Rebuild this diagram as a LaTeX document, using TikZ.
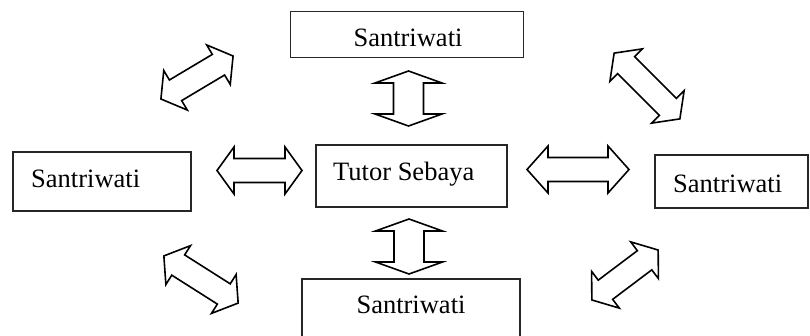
\documentclass[tikz,border=0pt]{standalone}
\usepackage{fontspec}
\setmainfont{Liberation Serif}
\begin{document}
\begin{tikzpicture}[x=1pt,y=-1pt,
  box/.style={draw=black!85, line width=1.8pt, rectangle, inner sep=0pt},
  lbl/.style={font=\fontsize{26.5}{30}\selectfont, inner sep=0pt, text=black},
  blockarrow/.style={draw=black, line width=1.6pt, line join=miter, fill=white},
  dbl/.pic={
    \draw[blockarrow] (-\L/2,0) -- (-\L/2+\hl,\hw) -- (-\L/2+\hl,\sw) -- (\L/2-\hl,\sw) -- (\L/2-\hl,\hw) -- (\L/2,0)
      -- (\L/2-\hl,-\hw) -- (\L/2-\hl,-\sw) -- (-\L/2+\hl,-\sw) -- (-\L/2+\hl,-\hw) -- cycle;
  }]
\useasboundingbox (0,0) rectangle (810,335);
\clip (0,0) rectangle (810,335);
% boxes
\node[box, minimum width=233pt, minimum height=46pt] (top) at (407,34.5) {};
\node[lbl, anchor=base] (ttop) at (408,46) {Santriwati};
\node[box, minimum width=178pt, minimum height=59pt] (left) at (102,181.5) {};
\node[lbl, anchor=base west] (tleft) at (31,187) {Santriwati};
\node[box, minimum width=153pt, minimum height=53pt] (right) at (731.5,181.5) {};
\node[lbl, anchor=base west] (tright) at (673,192) {Santriwati};
\node[box, minimum width=191pt, minimum height=62pt] (center) at (411.5,176) {};
\node[lbl, anchor=base west] (tcenter) at (333,180) {Tutor Sebaya};
\node[box, minimum width=218pt, minimum height=80pt] (bottom) at (411,319) {};
\node[lbl, anchor=base] (tbottom) at (411,313) {Santriwati};
% block arrows
\def\hw{23.5}\def\sw{12}
\def\L{85}\def\hl{17}
\pic at (259.5,170.5) {dbl};
\def\L{102}\def\hl{21}
\pic at (578,169.5) {dbl};
\def\hw{33.5}\def\sw{15}\def\L{55}\def\hl{12}
\pic[rotate=90] at (408.5,98.5) {dbl};
\pic[rotate=90] at (409,246.5) {dbl};
\def\hw{23}\def\sw{12}\def\hl{17}
\def\L{84}
\pic[rotate=30.8] at (197,77.5) {dbl};
\def\L{93}
\pic[rotate=-45] at (647,86) {dbl};
\def\L{88}
\pic[rotate=-32.4] at (201,279.5) {dbl};
\def\L{83}
\pic[rotate=37] at (625,275) {dbl};
\end{tikzpicture}
\end{document}
